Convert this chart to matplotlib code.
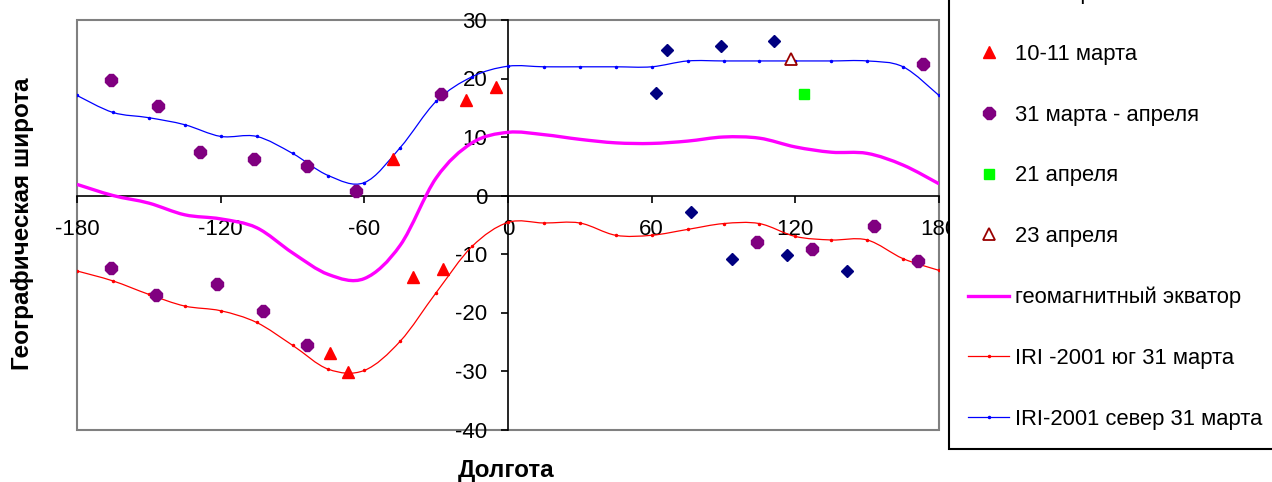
import matplotlib
matplotlib.use('Agg')
import matplotlib.pyplot as plt
import numpy as np
from matplotlib.path import Path
from matplotlib.patches import PathPatch, Rectangle
from matplotlib.lines import Line2D

plt.rcParams['font.family'] = ['Liberation Sans', 'DejaVu Sans']
plt.rcParams['axes.unicode_minus'] = False

# IRI-2001 model grid, every 15 degrees of longitude
lon_grid = [-180, -165, -150, -135, -120, -105, -90, -75, -60, -45, -30, -15, 0,
            15, 30, 45, 60, 75, 90, 105, 120, 135, 150, 165, 180]
iri_north = [17.1, 14.2, 13.3, 12.1, 10.1, 10.1, 7.2, 3.4, 2.2, 8.2, 16.1, 20.3, 22.1,
             22.0, 22.0, 22.0, 22.0, 23.0, 23.0, 23.0, 23.0, 23.0, 23.0, 22.0, 17.1]
iri_south = [-12.9, -14.6, -16.9, -18.9, -19.7, -21.7, -25.6, -29.7, -29.9, -24.9, -16.6, -8.7, -4.6,
             -4.7, -4.7, -6.8, -6.8, -5.8, -4.8, -4.8, -7.0, -7.6, -7.6, -10.8, -12.8]
geomag_eq = [1.9, 0.0, -1.3, -3.3, -4.0, -5.5, -9.8, -13.5, -14.2, -8.5, 3.0, 9.0, 10.8,
             10.4, 9.6, 9.0, 8.9, 9.3, 10.0, 9.8, 8.3, 7.4, 7.2, 5.2, 2.0]

# observations
mar4_lon = [66.4, 89.0, 111.1, 61.8, 76.4, 93.6, 116.5, 141.6]
mar4_lat = [24.8, 25.6, 26.4, 17.6, -2.8, -10.9, -10.1, -12.9]
mar10_lon = [-48.0, -17.5, -5.0, -39.7, -27.2, -74.4, -66.8]
mar10_lat = [6.2, 16.4, 18.6, -14.0, -12.5, -27.0, -30.2]
mar31_lon = [-165.8, -146.2, -128.7, -106.1, -84.0, -63.5, -28.0, 173.3,
             -165.8, -147.0, -121.6, -102.3, -84.0, 152.9, 104.0, 127.0, 171.3]
mar31_lat = [19.7, 15.3, 7.5, 6.2, 5.1, 0.85, 17.4, 22.4,
             -12.4, -17.0, -15.2, -19.7, -25.5, -5.2, -7.9, -9.2, -11.2]
apr21_lon = [123.6]
apr21_lat = [17.4]
apr23_lon = [118.2]
apr23_lat = [23.4]

labels = ['4-5 марта', '10-11 марта', '31 марта - апреля', '21 апреля', '23 апреля',
          'геомагнитный экватор', 'IRI -2001 юг 31 марта', 'IRI-2001 север 31 марта']


def smooth_path(xs, ys):
    # cubic Bezier segments through the nodes, like a spreadsheet "smoothed line"
    pts = np.column_stack([xs, ys]).astype(float)
    n = len(pts)
    verts = [pts[0]]
    codes = [Path.MOVETO]
    for i in range(n - 1):
        p0 = pts[i - 1] if i > 0 else pts[i]
        p1 = pts[i]
        p2 = pts[i + 1]
        p3 = pts[i + 2] if i + 2 < n else pts[i + 1]
        verts += [p1 + (p2 - p0) / 6.0, p2 - (p3 - p1) / 6.0, p2]
        codes += [Path.CURVE4] * 3
    return Path(verts, codes)


fig = plt.figure(figsize=(12.72, 4.82), dpi=100)
ax = fig.add_axes([77 / 1272, 1 - 429.5 / 482, 862 / 1272, 409.5 / 482])
ax.set_xlim(-180, 180)
ax.set_ylim(-40, 30)

ax.add_patch(PathPatch(smooth_path(lon_grid, geomag_eq), fill=False,
                       edgecolor='#FF00FF', lw=2.4, zorder=3))
ax.add_patch(PathPatch(smooth_path(lon_grid, iri_south), fill=False,
                       edgecolor='#FF0000', lw=0.9, zorder=3))
ax.add_patch(PathPatch(smooth_path(lon_grid, iri_north), fill=False,
                       edgecolor='#0000FF', lw=0.9, zorder=3))
ax.plot(lon_grid, iri_south, ls='none', marker='.', ms=3, color='#FF0000', zorder=3)
ax.plot(lon_grid, iri_north, ls='none', marker='.', ms=3, color='#0000FF', zorder=3)

h1, = ax.plot(mar4_lon, mar4_lat, ls='none', marker='D', ms=6.5, color='#000080', zorder=4)
h2, = ax.plot(mar10_lon, mar10_lat, ls='none', marker='^', ms=8.5, color='#FF0000', zorder=4)
h3, = ax.plot(mar31_lon, mar31_lat, ls='none', marker='8', ms=9, color='#800080', zorder=4)
h4, = ax.plot(apr21_lon, apr21_lat, ls='none', marker='s', ms=7, color='#00FF00', zorder=4)
h5, = ax.plot(apr23_lon, apr23_lat, ls='none', marker='^', ms=9, mfc='white',
              mec='#990000', mew=1.3, zorder=4)
h6 = Line2D([], [], color='#FF00FF', lw=2.4)
h7 = Line2D([], [], color='#FF0000', lw=0.9, marker='.', ms=3)
h8 = Line2D([], [], color='#0000FF', lw=0.9, marker='.', ms=3)

# axes crossing at the origin, grey frame round the plot area
for s in ['top', 'right']:
    ax.spines[s].set_visible(False)
ax.spines['left'].set_position(('data', 0))
ax.spines['bottom'].set_position(('data', 0))
ax.spines['left'].set_linewidth(1.2)
ax.spines['bottom'].set_linewidth(1.2)
ax.add_patch(Rectangle((0, 0), 1, 1, transform=ax.transAxes, fill=False,
                       edgecolor='#808080', lw=1.5, clip_on=False, zorder=1))

ax.set_xticks([-180, -120, -60, 0, 60, 120, 180])
ax.set_yticks([-40, -30, -20, -10, 0, 10, 20, 30])
ax.tick_params(axis='x', direction='out', length=5, width=1.2, pad=12, labelsize=16)
ax.tick_params(axis='y', direction='out', length=5, width=1.2, pad=10, labelsize=16)

fig.text(506 / 1272, 1 - 471 / 482, 'Долгота', ha='center', va='center',
         fontsize=17.5, fontweight='bold')
fig.text(23 / 1272, 1 - 224 / 482, 'Географическая широта', ha='center', va='center',
         rotation=90, fontsize=17.5, fontweight='bold')

leg = fig.legend([h1, h2, h3, h4, h5, h6, h7, h8], labels,
                 loc='lower left', bbox_to_anchor=(949 / 1272, 1 - 449 / 482),
                 borderaxespad=0, numpoints=1, fontsize=15.8, labelspacing=1.81,
                 handlelength=1.85, handletextpad=0.3, borderpad=0.88,
                 fancybox=False, framealpha=1, edgecolor='black')
leg.get_frame().set_linewidth(1.5)

plt.savefig('out.png', dpi=100)
